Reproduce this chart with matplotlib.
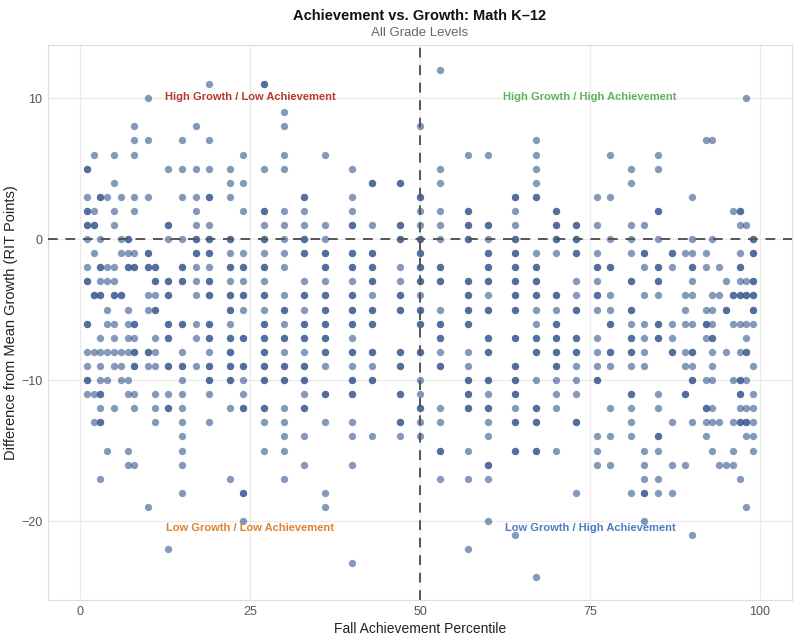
import matplotlib
matplotlib.use('Agg')
import matplotlib.pyplot as plt
import numpy as np

plt.rcParams['font.family'] = ['Liberation Sans', 'DejaVu Sans']

# fall percentile columns, and the growth differences seen in each column
# (a value listed twice = two students stacked on the same spot)
percentiles = [1, 2, 3, 4, 5, 6, 7, 8, 10, 11, 13, 15, 17, 19, 22, 24,
               27, 30, 33, 36, 40, 43, 47, 50, 53, 57, 60, 64, 67, 70, 73, 76,
               78, 81, 83, 85, 87, 89, 90, 92, 93, 94, 95, 96, 97, 98, 99]

growth = [
    [5, 5, 3, 2, 2, 1, 1, 0, -2, -3, -3, -6, -6, -8, -9, -10, -10, -11],
    [6, 2, 1, 1, -1, -4, -4, -8, -11, -13],
    [3, 3, 0, -2, -2, -3, -4, -4, -7, -8, -9, -10, -11, -11, -12, -13, -13, -17],
    [3, -2, -3, -5, -6, -8, -10, -15],
    [6, 4, 2, 1, -2, -3, -4, -4, -6, -7, -8, -9, -12],
    [3, 0, -1, -4, -4, -8, -9, -10],
    [0, 0, -1, -2, -2, -5, -6, -7, -8, -10, -11, -15, -16],
    [8, 7, 6, 3, 2, -1, -2, -2, -6, -6, -7, -8, -8, -9, -9, -11, -12, -16],
    [10, 7, 3, -1, -1, -2, -2, -4, -5, -8, -8, -9, -19],
    [-2, -2, -3, -3, -4, -5, -5, -7, -8, -9, -11, -12, -13],
    [5, 1, 1, 0, -3, -3, -4, -4, -6, -6, -7, -7, -9, -9, -11, -12, -12, -22],
    [7, 5, 3, 0, -2, -2, -3, -3, -6, -6, -8, -9, -9, -10, -11, -12, -13, -14, -15, -16, -18],
    [8, 5, 3, 2, 1, 0, 0, -1, -1, -2, -3, -4, -6, -7, -9],
    [11, 7, 5, 3, 3, 1, 0, 0, -1, -1, -2, -3, -3, -4, -4, -6, -6, -7, -7, -8, -9, -9, -10, -10, -11, -13],
    [5, 4, 3, 0, 0, -1, -2, -2, -3, -4, -4, -5, -5, -6, -7, -7, -8, -8, -9, -9, -10, -10, -12, -17],
    [6, 4, 2, -1, -2, -2, -3, -4, -4, -5, -7, -7, -9, -9, -10, -11, -12, -12, -18, -18, -20],
    [11, 11, 5, 2, 2, 1, 0, 0, -1, -2, -2, -3, -4, -4, -5, -6, -6, -7, -7, -8, -8, -9, -9, -10, -10, -12, -12, -13, -15],
    [9, 8, 6, 5, 2, 1, 0, -1, -2, -4, -5, -5, -6, -7, -7, -8, -9, -9, -10, -10, -12, -13, -14, -15, -17],
    [3, 3, 2, 1, 0, 0, -1, -1, -3, -4, -4, -5, -6, -6, -7, -7, -8, -9, -9, -10, -10, -11, -12, -12, -14, -16],
    [6, 1, 0, -1, -1, -2, -2, -3, -4, -4, -5, -5, -6, -6, -7, -7, -8, -8, -9, -11, -11, -13, -18, -19],
    [5, 3, 2, 1, 1, -1, -1, -2, -2, -3, -4, -4, -5, -5, -6, -6, -7, -8, -8, -9, -10, -10, -11, -11, -13, -14, -16, -23],
    [4, 4, 1, -1, -1, -2, -2, -3, -3, -4, -5, -5, -6, -6, -8, -8, -9, -10, -10, -14],
    [4, 4, 1, 1, 0, 0, -2, -3, -4, -4, -5, -5, -8, -8, -9, -9, -11, -11, -13, -13, -14],
    [8, 3, 3, 2, 1, 0, 0, -1, -1, -2, -2, -3, -3, -4, -5, -5, -6, -6, -8, -8, -10, -11, -12, -12, -13, -14],
    [12, 5, 4, 2, 1, 0, -2, -2, -3, -3, -5, -6, -6, -7, -7, -8, -9, -9, -12, -13, -15, -15, -17],
    [6, 2, 2, 1, 1, 0, 0, -3, -3, -4, -4, -5, -5, -6, -6, -8, -9, -10, -10, -11, -11, -12, -12, -15, -17, -22],
    [6, 1, 1, 0, -1, -1, -2, -2, -3, -3, -4, -5, -5, -7, -7, -8, -8, -10, -10, -11, -12, -12, -13, -14, -16, -16, -17, -20],
    [3, 3, 2, 1, 0, 0, -1, -1, -2, -2, -3, -3, -4, -4, -5, -5, -7, -7, -9, -9, -10, -10, -11, -11, -12, -13, -13, -15, -15, -21],
    [7, 6, 5, 4, 3, 3, -1, -2, -2, -3, -3, -4, -4, -5, -6, -7, -7, -8, -8, -10, -12, -12, -13, -13, -15, -15, -24],
    [2, 2, 1, 1, 0, 0, -1, -4, -4, -5, -6, -6, -7, -7, -8, -8, -9, -9, -10, -11, -12, -15],
    [1, 1, 0, 0, -1, -1, -3, -4, -5, -5, -7, -7, -8, -8, -9, -10, -11, -13, -13, -18],
    [3, 1, -1, -2, -2, -3, -4, -4, -5, -7, -8, -9, -10, -10, -14, -15, -16],
    [6, 3, 0, -2, -2, -4, -5, -6, -6, -8, -8, -9, -12, -14, -16],
    [5, 4, 1, 0, -1, -3, -3, -5, -5, -6, -7, -7, -8, -8, -9, -11, -11, -12, -13, -14, -18],
    [1, -1, -1, -2, -4, -6, -7, -8, -9, -15, -16, -17, -18, -18, -20],
    [6, 5, 2, 2, 0, -2, -2, -3, -3, -4, -6, -6, -7, -7, -11, -12, -14, -14, -15, -17, -18],
    [-1, -1, -2, -6, -7, -8, -8, -13, -16, -18],
    [-1, -4, -5, -6, -8, -9, -11, -11, -16],
    [3, 0, -1, -2, -2, -3, -4, -6, -8, -8, -9, -10, -10, -13, -21],
    [7, -1, -2, -5, -6, -6, -7, -10, -12, -12, -13, -14],
    [7, 0, -4, -5, -6, -7, -7, -8, -9, -10, -12, -13, -15],
    [-2, -4, -13, -16],
    [-3, -5, -5, -8, -16],
    [2, -4, -4, -6, -10, -13, -15, -16],
    [2, 2, 1, -1, -2, -2, -3, -4, -4, -6, -8, -10, -10, -11, -11, -12, -13, -13, -17],
    [10, 1, -3, -4, -4, -6, -7, -8, -8, -10, -12, -13, -13, -14, -19],
    [0, 0, -1, -1, -3, -3, -4, -4, -5, -5, -6, -9, -11, -12, -13, -14, -15],
]

quadrant_labels = ['High Growth / Low Achievement', 'High Growth / High Achievement',
                   'Low Growth / Low Achievement', 'Low Growth / High Achievement']
quadrant_pos = [(25, 10.1), (75, 10.1), (25, -20.5), (75, -20.5)]
quadrant_colors = ['#B5392F', '#5DB35D', '#E0802C', '#4A7EC0']

x = []
y = []
for p, vals in zip(percentiles, growth):
    for v in vals:
        x.append(p)
        y.append(v)

fig = plt.figure(figsize=(8, 6.4), dpi=100)
ax = fig.add_axes([0.06, 0.0625, 0.93, 0.867])

ax.scatter(x, y, s=28, color='#2E4F8A', alpha=0.58, linewidths=0, zorder=3)

ax.axvline(50, color='#555555', linestyle=(0, (5, 4)), linewidth=1.4, zorder=4)
ax.axhline(0, color='#555555', linestyle=(0, (5, 4)), linewidth=1.4, zorder=4)

for lab, pos, col in zip(quadrant_labels, quadrant_pos, quadrant_colors):
    ax.text(pos[0], pos[1], lab, color=col, fontsize=8, fontweight='bold',
            ha='center', va='center', zorder=5)

ax.set_xlim(-4.7, 104.7)
ax.set_ylim(-25.6, 13.76)
ax.set_xticks([0, 25, 50, 75, 100])
ax.set_yticks([-20, -10, 0, 10])
ax.set_yticklabels(['\u221220', '\u221210', '0', '10'])
ax.grid(True, color='#EBEBEB', linewidth=1)
ax.set_axisbelow(True)
ax.tick_params(length=0, labelsize=9, labelcolor='#555555', pad=4)
for s in ax.spines.values():
    s.set_color('#DDDDDD')

ax.set_xlabel('Fall Achievement Percentile', fontsize=10, color='#222222', labelpad=3)
ax.set_ylabel('Difference from Mean Growth (RIT Points)', fontsize=10.5, color='#222222', labelpad=2)

# titles are centred over the plotting area, not the whole figure
fig.text(0.525, 0.975, 'Achievement vs. Growth: Math K\u201312', ha='center', va='center',
         fontsize=10.5, fontweight='bold', color='#111111')
fig.text(0.525, 0.948, 'All Grade Levels', ha='center', va='center', fontsize=9.5, color='#666666')

fig.savefig('out.png', dpi=100)
